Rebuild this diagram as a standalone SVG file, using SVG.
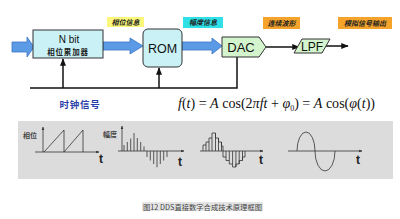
<svg xmlns="http://www.w3.org/2000/svg" width="400" height="219" viewBox="0 0 400 219">
<defs>
<style>
.box{fill:#c9f1f6;stroke:#333;stroke-width:1}
.grn{fill:#d3f4cc;stroke:#333;stroke-width:1}
.blue{fill:#5b9be6;stroke:#3b74c4;stroke-width:0.8}
.ln{stroke:#111;stroke-width:1.5;fill:none}
.wv{stroke:#333;stroke-width:0.8;fill:none}
.sans{font-family:"Liberation Sans",Arial,sans-serif}
.cjk{font-family:"Noto Sans CJK SC","Liberation Sans",sans-serif}
.tag{font-family:"Noto Sans CJK SC",sans-serif;font-size:7px;font-weight:bold;font-style:italic;fill:#222;text-anchor:middle}
.ax{font-family:"Liberation Sans",Arial,sans-serif;font-size:12px;font-weight:bold;fill:#222}
</style>
<marker id="ah" viewBox="0 0 10 10" refX="9" refY="5" markerWidth="5" markerHeight="5" orient="auto">
<path d="M0,1 L10,5 L0,9 Z" fill="#111"/>
</marker>
<marker id="sa" viewBox="0 0 10 10" refX="9" refY="5" markerWidth="4" markerHeight="4" orient="auto">
<path d="M0,1 L10,5 L0,9 Z" fill="#333"/>
</marker>
</defs>
<rect width="400" height="219" fill="#fff"/>

<g id="connectors">
<polygon class="blue" points="12,42 27,42 27,37 34,47 27,57 27,52 12,52"/>
<polygon class="blue" points="103,42 130,42 130,38 143,46 130,54 130,50 103,50"/>
<polygon class="blue" points="182,42 212,42 212,38 222,46 212,54 212,50 182,50"/>
<path class="ln" d="M30,88 H237 V57"/>
<path class="ln" d="M63,88 V59" marker-end="url(#ah)"/>
<path class="ln" d="M159,88 V68" marker-end="url(#ah)"/>
<path class="ln" d="M266,47 H299" marker-end="url(#ah)"/>
<path class="ln" d="M326,46 H348" marker-end="url(#ah)"/>
</g>

<g id="nbit">
<rect class="box" x="33" y="30" width="70" height="28"/>
<text x="69" y="43" class="sans" font-size="10" text-anchor="middle" fill="#111">N bit</text>
<text x="68" y="55" class="cjk" font-size="7.5" font-weight="bold" text-anchor="middle" fill="#222" letter-spacing="0.8">相位累加器</text>
</g>
<g id="rom">
<rect class="box" x="143" y="29" width="39" height="38" rx="5"/>
<text x="162.5" y="53" class="sans" font-size="12.5" text-anchor="middle" fill="#111">ROM</text>
</g>
<g id="dac">
<polygon class="grn" points="222,37 259,37 266,47 259,57 222,57"/>
<text x="241" y="51.5" class="sans" font-size="13" text-anchor="middle" fill="#111">DAC</text>
</g>
<g id="lpf">
<polygon class="grn" points="302,39 330,39 322,53 294,53"/>
<text x="312" y="51" class="sans" font-size="12" text-anchor="middle" fill="#111">LPF</text>
</g>

<g id="labels">
<rect x="107" y="17" width="37" height="10" fill="#fbf77a"/>
<text x="125.5" y="24.5" class="tag">相位信息</text>
<rect x="183" y="17" width="40" height="11" fill="#2fe0e6"/>
<text x="203" y="25" class="tag">幅度信息</text>
<rect x="263" y="17" width="37" height="12" fill="#f5a32a"/>
<text x="281.5" y="25.5" class="tag">连续波形</text>
<rect x="338" y="17" width="54" height="12" fill="#f5a32a"/>
<text x="365" y="25.5" class="tag">模拟信号输出</text>
<text x="80" y="108" class="cjk" font-size="9.5" font-weight="bold" text-anchor="middle" fill="#2b3fa8" letter-spacing="0.8">时钟信号</text>
<text x="178" y="108" font-family="'Liberation Serif','Times New Roman',serif" font-size="14" fill="#111" textLength="197" lengthAdjust="spacingAndGlyphs"><tspan font-style="italic">f</tspan>(<tspan font-style="italic">t</tspan>) = <tspan font-style="italic">A</tspan> cos(2<tspan font-style="italic">πft</tspan> + <tspan font-style="italic">φ</tspan><tspan font-size="8" dy="3">0</tspan><tspan dy="-3">) = </tspan><tspan font-style="italic">A</tspan> cos(<tspan font-style="italic">φ</tspan>(<tspan font-style="italic">t</tspan>))</text>
</g>

<g id="waveforms">
<rect x="18" y="121" width="375" height="58" fill="#dcdcdc"/>
<!-- phase -->
<text x="30" y="138" class="cjk" font-size="7" font-weight="bold" text-anchor="middle" fill="#444">相位</text>
<path class="wv" d="M43,152 V127" marker-end="url(#sa)"/>
<path class="wv" d="M35,152 H99" marker-end="url(#sa)"/>
<path class="wv" d="M44,152 L64,130 V152 L83,130 V152"/>
<text x="101" y="163" class="ax" text-anchor="middle">t</text>
<!-- amplitude samples -->
<text x="110" y="137" class="cjk" font-size="7" font-weight="bold" text-anchor="middle" fill="#444">幅度</text>
<path class="wv" d="M122,151 V126" marker-end="url(#sa)"/>
<path class="wv" d="M118,151 H184" marker-end="url(#sa)"/>
<path class="wv" d="M124,151 V145 M127.3,151 V142 M130.7,151 V138.5 M134,151 V133 M137.3,151 V138 M140.7,151 V142 M144,151 V146.3 M147,151 V157 M150.3,151 V160.5 M153.7,151 V164 M157,151 V167.3 M160.3,151 V164 M163.7,151 V160.5 M167,151 V157"/>
<text x="180" y="166" class="ax" text-anchor="middle">t</text>
<!-- staircase -->
<path class="wv" d="M200,151 H263" marker-end="url(#sa)"/>
<path class="wv" d="M203,151 V145 H206 V151 M206,142 H209 V151 M209,138 H212 V151 M212,133 H215.5 V151 M215.5,138 H218.5 V151 M218.5,142 H221.5 V151 M206,145 V142 M209,142 V138 M212,138 V133 M215.5,133 V138 M218.5,138 V142 M221.5,142 V146 H223 V151
M223,151 V157 H226 V151 M226,160.5 H229.3 V151 M229.3,164 H232.6 V151 M232.6,167 H235.9 V151 M235.9,164 H239.2 V151 M239.2,160.5 H242.5 V151 M242.5,157 H245 V151 M226,157 V160.5 M229.3,160.5 V164 M232.6,164 V167 M235.9,167 V164 M239.2,164 V160.5 M242.5,160.5 V157"/>
<text x="261" y="164" class="ax" text-anchor="middle">t</text>
<!-- sine -->
<path class="wv" d="M288,151 H362" marker-end="url(#sa)"/>
<path class="wv" d="M297,151 A9,19 0 0 1 315,151 A10,20 0 0 0 335,151"/>
<text x="358" y="164" class="ax" text-anchor="middle">t</text>
</g>

<g id="caption">
<rect x="142" y="202" width="121" height="9" fill="#e4e4e4"/>
<text x="143" y="209.5" class="cjk" font-size="7" fill="#444" textLength="119" lengthAdjust="spacingAndGlyphs">图12 DDS直接数字合成技术原理框图</text>
</g>
</svg>
